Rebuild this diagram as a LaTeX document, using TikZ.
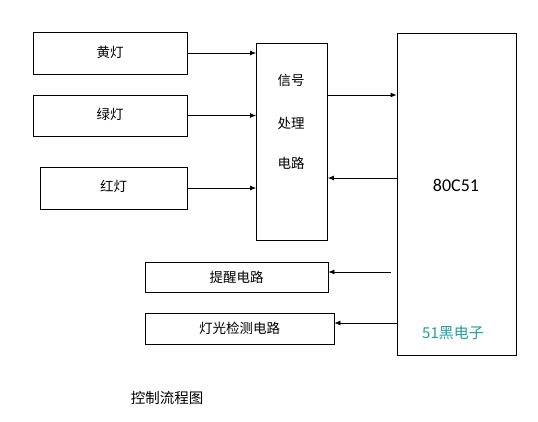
\documentclass[tikz,border=0pt]{standalone}
\usepackage{fontspec}
\usepackage{xcolor}
\usetikzlibrary{arrows.meta,positioning}
\newfontfamily\cjk{Noto Sans CJK SC}
\newfontfamily\calib{Carlito}
\definecolor{heiteal}{RGB}{30,158,158}
\tikzset{
  blockbox/.style={draw, line width=0.8pt, inner sep=0pt, font=\cjk\fontsize{13.5}{16}\selectfont},
  sigarrow/.style={-{Latex[length=6pt,width=5pt]}, line width=0.8pt}
}

\begin{document}
\begin{tikzpicture}[x=1pt, y=-1pt]
    \useasboundingbox (0,0) rectangle (538,422);

    % Lamps
    \node[blockbox, minimum width=154pt, minimum height=42pt] (yellow) at (110,53) {\raisebox{3pt}{黄灯}};
    \node[blockbox, minimum width=154pt, minimum height=41pt] (green) at (110,115.5) {\raisebox{3pt}{绿灯}};
    \node[blockbox, minimum width=147pt, minimum height=42pt] (red) at (113.5,188) {\raisebox{4pt}{红灯}};

    % Signal processing circuit
    \node[blockbox, minimum width=71pt, minimum height=197pt] (sig) at (292,141.5) {};
    \node[font=\cjk\fontsize{13.5}{16}\selectfont] at (291,80) {信号};
    \node[font=\cjk\fontsize{13.5}{16}\selectfont] at (291,123) {处理};
    \node[font=\cjk\fontsize{13.5}{16}\selectfont] at (291,163) {电路};

    % MCU
    \node[blockbox, minimum width=119pt, minimum height=322pt] (mcu) at (456.5,194) {};
    \node[font=\calib\fontsize{18}{20}\selectfont] at (456,185) {80C51};
    \node[font=\cjk\fontsize{15}{18}\selectfont, text=heiteal] at (453,333) {51黑电子};

    % Outputs
    \node[blockbox, minimum width=183pt, minimum height=30pt] (remind) at (236.5,277) {提醒电路};
    \node[blockbox, minimum width=189pt, minimum height=31pt] (detect) at (239.5,328.5) {灯光检测电路};

    % Arrows
    \draw[sigarrow] (yellow.east) -- (yellow.east -| sig.west);
    \draw[sigarrow] (green.east) -- (green.east -| sig.west);
    \draw[sigarrow] (red.east) -- (red.east -| sig.west);
    \draw[sigarrow] (sig.east |- 0,95) -- (mcu.west |- 0,95);
    \draw[sigarrow] (mcu.west |- 0,178) -- (sig.east |- 0,178);
    \coordinate (remindout) at (391,272);
    \draw[sigarrow] (remindout) -- (remindout -| remind.east);
    \draw[sigarrow] (mcu.west |- 0,323) -- (detect.east |- 0,323);

    % Caption
    \node[font=\cjk\fontsize{14.5}{17}\selectfont] (caption) at (167,398) {控制流程图};
\end{tikzpicture}
\end{document}
